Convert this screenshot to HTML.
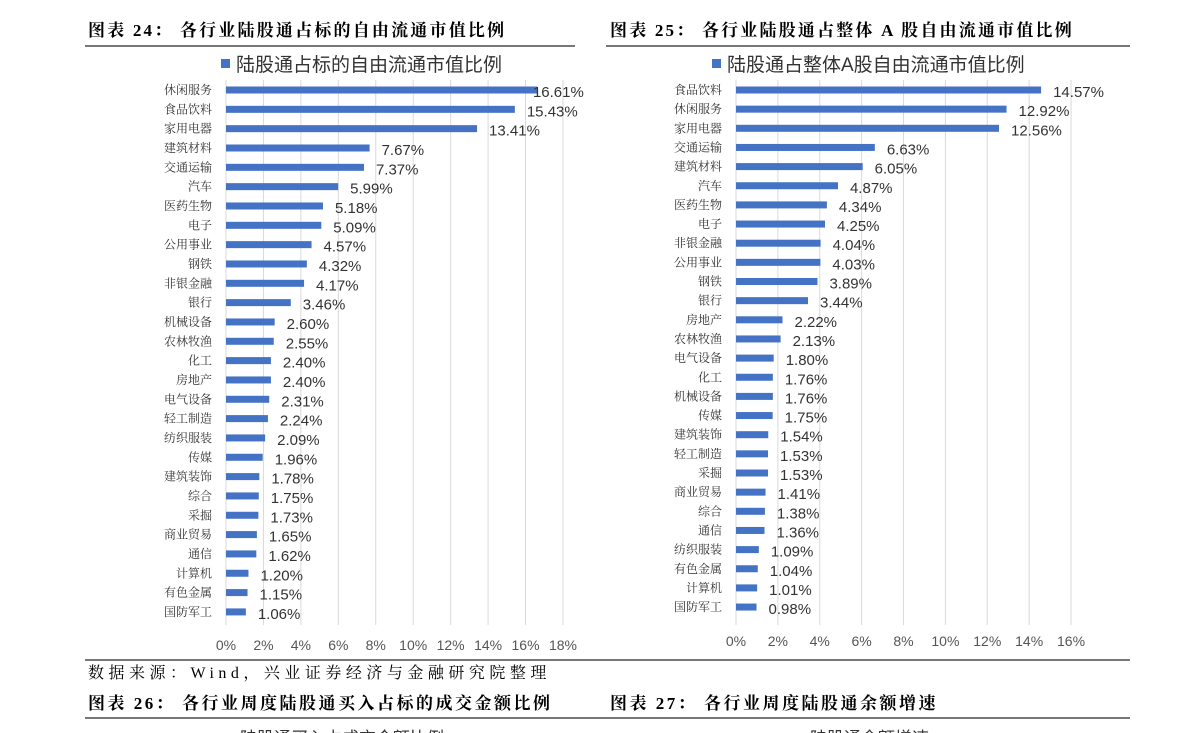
<!DOCTYPE html>
<html><head><meta charset="utf-8"><style>
body{margin:0;background:#fff;width:1191px;height:733px;overflow:hidden}
svg{display:block}
.t{font-family:"Liberation Serif","Noto Serif CJK SC",serif;font-weight:bold;font-size:17px;fill:#000;letter-spacing:2.2px}
.c{font-family:"Liberation Serif","Noto Serif CJK SC",serif;font-size:12px;fill:#333}
.v{font-family:"Liberation Sans","Noto Sans CJK SC",sans-serif;font-size:15px;fill:#333}
.a{font-family:"Liberation Sans","Noto Sans CJK SC",sans-serif;font-size:14px;fill:#555}
.l{font-family:"Liberation Sans","Noto Sans CJK SC",sans-serif;font-size:19px;fill:#333}
</style></head><body>
<svg id="s" width="1191" height="733" xmlns="http://www.w3.org/2000/svg">
<text class="t" x="88" y="36">图表 24： 各行业陆股通占标的自由流通市值比例</text>
<text class="t" x="610" y="36">图表 25： 各行业陆股通占整体 A 股自由流通市值比例</text>
<rect x="85" y="45" width="490" height="2" fill="#777"/>
<rect x="606" y="45" width="524" height="2" fill="#777"/>
<rect x="221" y="59" width="9" height="9" fill="#4472c4"/>
<text class="l" x="236" y="71">陆股通占标的自由流通市值比例</text>
<rect x="712" y="59" width="9" height="9" fill="#4472c4"/>
<text class="l" x="727" y="71">陆股通占整体A股自由流通市值比例</text>
<g id="g"></g>
<rect x="85" y="659" width="1045" height="2" fill="#777"/>
<text class="t" x="88" y="678" style="font-weight:normal;font-size:16px;letter-spacing:4.5px">数据来源：Wind，兴业证券经济与金融研究院整理</text>
<text class="t" x="88" y="709" style="letter-spacing:2.5px">图表 26： 各行业周度陆股通买入占标的成交金额比例</text>
<text class="t" x="610" y="709" style="letter-spacing:2.5px">图表 27： 各行业周度陆股通余额增速</text>
<rect x="85" y="717" width="1045" height="2" fill="#777"/>
<text class="l" x="240" y="744" style="font-size:17px">陆股通买入占成交金额比例</text>
<text class="l" x="810" y="744" style="font-size:17px">陆股通余额增速</text>
</svg>
<script>
var L=[["休闲服务",16.61],["食品饮料",15.43],["家用电器",13.41],["建筑材料",7.67],["交通运输",7.37],["汽车",5.99],["医药生物",5.18],["电子",5.09],["公用事业",4.57],["钢铁",4.32],["非银金融",4.17],["银行",3.46],["机械设备",2.60],["农林牧渔",2.55],["化工",2.40],["房地产",2.40],["电气设备",2.31],["轻工制造",2.24],["纺织服装",2.09],["传媒",1.96],["建筑装饰",1.78],["综合",1.75],["采掘",1.73],["商业贸易",1.65],["通信",1.62],["计算机",1.20],["有色金属",1.15],["国防军工",1.06]];
var R=[["食品饮料",14.57],["休闲服务",12.92],["家用电器",12.56],["交通运输",6.63],["建筑材料",6.05],["汽车",4.87],["医药生物",4.34],["电子",4.25],["非银金融",4.04],["公用事业",4.03],["钢铁",3.89],["银行",3.44],["房地产",2.22],["农林牧渔",2.13],["电气设备",1.80],["化工",1.76],["机械设备",1.76],["传媒",1.75],["建筑装饰",1.54],["轻工制造",1.53],["采掘",1.53],["商业贸易",1.41],["综合",1.38],["通信",1.36],["纺织服装",1.09],["有色金属",1.04],["计算机",1.01],["国防军工",0.98]];
var h="";
function chart(d,x0,k,y0,dy,n,ay,first){
 for(var i=0;i<=n;i++){var x=x0+i*2*k;h+='<rect x="'+(x-0.5)+'" y="80" width="1" height="545" fill="#d9d9d9"/>';
 h+='<text class="a" x="'+x+'" y="'+ay+'" text-anchor="middle">'+(i*2)+'%</text>';}
 d.forEach(function(r,i){var y=y0+i*dy,w=r[1]*k;
 var off=(i==0&&first)?-4:12;
 h+='<text class="c" x="'+(x0-14)+'" y="'+(y+4)+'" text-anchor="end">'+r[0]+'</text>';
 h+='<rect x="'+x0+'" y="'+(y-3.5)+'" width="'+w+'" height="7" fill="#4472c4"/>';
 h+='<text class="v" x="'+(x0+w+off)+'" y="'+(y+7)+'">'+r[1].toFixed(2)+'%</text>';});
}
chart(L,226,18.72,90,19.33,9,650,true);
chart(R,736,20.94,90,19.15,8,646,false);
document.getElementById("g").innerHTML=h;
</script>
</body></html>
